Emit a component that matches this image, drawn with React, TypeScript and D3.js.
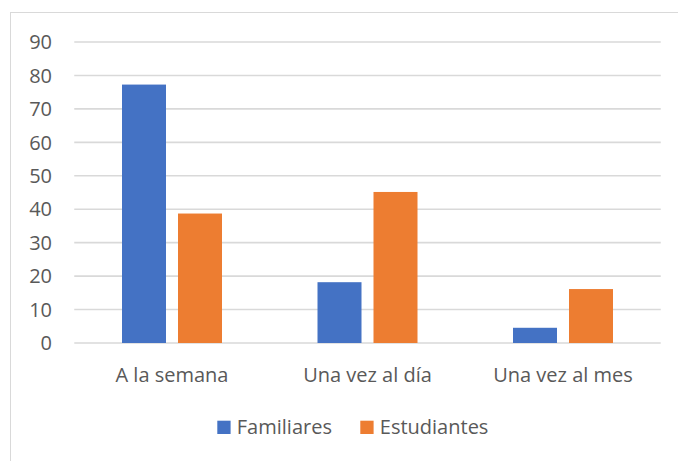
import React from "react";
import * as d3 from "d3";

const categories = ["A la semana", "Una vez al día", "Una vez al mes"];
const seriesNames = ["Familiares", "Estudiantes"];
const familiares = [77.27, 18.18, 4.55];
const estudiantes = [38.71, 45.16, 16.13];
const yTicks = [0, 10, 20, 30, 40, 50, 60, 70, 80, 90];
const colors = ["#4472C4", "#ED7D31"];

const W = 678;
const H = 461;
const plotLeft = 74.25;
const plotRight = 660.75;
const plotTop = 42;
const plotBottom = 343;
const FONT = "'Open Sans', sans-serif";
const TEXT = "#595959";
const GRID = "#d9d9d9";

export default function App() {
  const x = d3.scaleBand<string>().domain(categories).range([plotLeft, plotRight]).padding(0);
  const y = d3.scaleLinear().domain([0, 90]).range([plotBottom, plotTop]);
  const step = 56;
  const pi = 12 / 56;
  const po = (x.bandwidth() / step - 2 + pi) / 2;
  const xs = d3.scaleBand<string>().domain(seriesNames).range([0, x.bandwidth()]).paddingInner(pi).paddingOuter(po);
  const series = [familiares, estudiantes];

  const legendX = [217.3, 360.3];

  return (
    <svg
      width={W}
      height={H}
      style={{ position: "absolute", left: 0, top: 0, background: "#fff" }}
      fontFamily={FONT}
    >
      <rect x={10.5} y={12.5} width={800} height={600} fill="#fff" stroke={GRID} strokeWidth={1} />
      {yTicks.map((t) => (
        <g key={t}>
          <line x1={plotLeft} x2={plotRight} y1={y(t)} y2={y(t)} stroke={GRID} strokeWidth={1.6} />
          <text x={52} y={y(t) + 7.2} textAnchor="end" fontSize={20} fill={TEXT}>
            {t}
          </text>
        </g>
      ))}
      {series.map((vals, si) =>
        vals.map((v, ci) => (
          <rect
            key={`${si}-${ci}`}
            x={(x(categories[ci]) as number) + (xs(seriesNames[si]) as number)}
            y={y(v)}
            width={xs.bandwidth()}
            height={y(0) - y(v)}
            fill={colors[si]}
          />
        ))
      )}
      {categories.map((c) => (
        <text
          key={c}
          x={(x(c) as number) + x.bandwidth() / 2}
          y={381.5}
          textAnchor="middle"
          fontSize={20}
          fill={TEXT}
        >
          {c}
        </text>
      ))}
      {seriesNames.map((s, i) => (
        <g key={s}>
          <rect x={legendX[i]} y={420.7} width={13.3} height={13.3} fill={colors[i]} />
          <text x={legendX[i] + 19.5} y={434} fontSize={20} fill={TEXT}>
            {s}
          </text>
        </g>
      ))}
    </svg>
  );
}
